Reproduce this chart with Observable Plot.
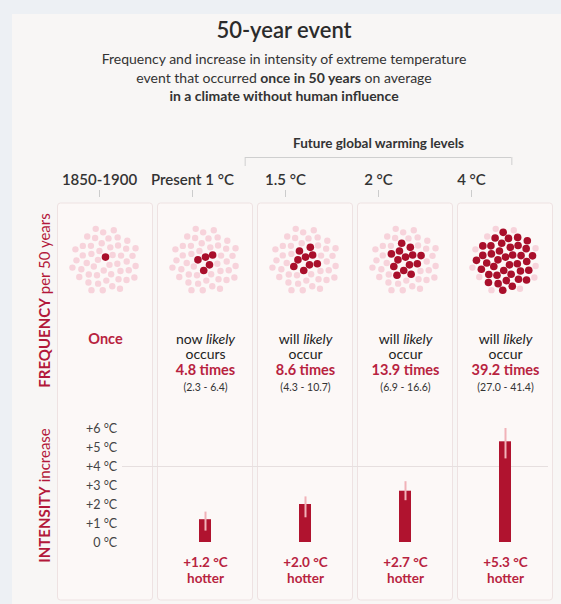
<!DOCTYPE html>
<html><head><meta charset="utf-8">
<script src="https://cdn.jsdelivr.net/npm/d3@7"></script>
<script src="https://cdn.jsdelivr.net/npm/@observablehq/plot@0.6"></script>
<style>
html,body{margin:0;padding:0;background:#edf0f4;}
body{width:561px;height:604px;position:relative;overflow:hidden;font-family:Lato,"Noto Sans",sans-serif;color:#333;}
#panel{position:absolute;left:12px;top:14px;width:549px;height:590px;background:#f8f6f5;}
.t{position:absolute;left:7px;width:554px;text-align:center;white-space:nowrap;}
#title{top:17px;font-size:22px;line-height:26px;font-weight:600;color:#2b2b2b;}
#sub{top:50px;font-size:14px;line-height:18.5px;color:#333;}
#sub b{font-weight:700;}
.p{position:absolute;left:0;}
#header{top:120px;} #freq{top:196px;} #inten{top:400px;}
</style></head>
<body>
<div id="panel"></div>
<div class="t" id="title">50-year event</div>
<div class="t" id="sub">Frequency and increase in intensity of extreme temperature<br>event that occurred <b>once in 50 years</b> on average<br><b>in a climate without human influence</b></div>
<div class="p" id="header"></div>
<div class="p" id="freq"></div>
<div class="p" id="inten"></div>
<script>
// ---- data ----
const categories = ["1850-1900", "Present 1 °C", "1.5 °C", "2 °C", "4 °C"];
const futureGroupLabel = "Future global warming levels";
const futureFirst = "1.5 °C";
const futureLast = "4 °C";
const yearsPerPeriod = 50;
const frequency = [1, 4.8, 8.6, 13.9, 39.2];
const frequencyLow = [null, 2.3, 4.3, 6.9, 27.0];
const frequencyHigh = [null, 6.4, 10.7, 16.6, 41.4];
const phraseLine1 = ["Once", "now likely", "will likely", "will likely", "will likely"];
const phraseLine2 = ["", "occurs", "occur", "occur", "occur"];
const intensity = [null, 1.2, 2.0, 2.7, 5.3];
const intensityLow = [null, 0.6, 1.3, 2.2, 4.4];
const intensityHigh = [null, 1.6, 2.4, 3.2, 6.0];
const intensityTicks = [0, 1, 2, 3, 4, 5, 6];
const frequencyAxisLabel = "FREQUENCY per 50 years";
const intensityAxisLabel = "INTENSITY increase";

// ---- styles ----
const RED = "#b3183a", TXT = "#b8233f", BAR = "#b0132f", DARKDOT = "#a90f2b", PINK = "#f7d3db";
const CARD = "#fcf8f7", CARDSTROKE = "#eee2e2";
const svgStyle = {background: "transparent", overflow: "hidden", fontFamily: "Lato, 'Noto Sans', sans-serif", color: "#333"};

const table = categories.map((c, i) => ({
  i, c, freq: frequency[i], lo: frequencyLow[i], hi: frequencyHigh[i],
  p1: phraseLine1[i], p2: phraseLine2[i],
  v: intensity[i], vlo: intensityLow[i], vhi: intensityHigh[i]
}));
const withRange = table.filter(d => d.lo != null);
const withIntensity = table.filter(d => d.v != null);

// ---- header ----
const bandPad = 0.14;
const hRange = [57.4, 513.3];
const hStep = (hRange[1] - hRange[0]) / (categories.length - bandPad);
const hBw = hStep * (1 - bandPad);
const header = Plot.plot({
  width: 561, height: 80, margin: 0, style: svgStyle,
  x: {type: "band", domain: categories, range: hRange, paddingInner: bandPad, paddingOuter: 0, axis: null},
  y: {domain: [0, 80], range: [0, 80], axis: null},
  marks: [
    Plot.text([futureGroupLabel], {x: () => "2 °C", y: 23, fontSize: 13.5, fontWeight: 700, fill: "#333"}),
    Plot.ruleY([37], {x1: () => futureFirst, x2: () => futureLast, stroke: "#cfcfcf"}),
    Plot.ruleX([futureFirst], {x: d => d, y1: 37, y2: 46, dx: -hBw / 2, stroke: "#cfcfcf"}),
    Plot.ruleX([futureLast], {x: d => d, y1: 37, y2: 45, dx: hBw / 2, stroke: "#cfcfcf"}),
    Plot.text(categories, {x: d => d, y: 60, fontSize: 15, fontWeight: 600, fill: "#333"}),
    Plot.ruleX(categories, {x: d => d, y1: 70, y2: 77, stroke: "#cccccc"})
  ]
});
document.getElementById("header").append(header);

// ---- frequency panel ----
const xCol = {type: "linear", domain: [0, categories.length], range: [55, 555], axis: null};
const golden = Math.PI * (3 - Math.sqrt(5));
const clusterR = 0.34, clusterY = 0.64;
const dots = [];
table.forEach(d => {
  const nDark = Math.round(d.freq);
  for (let j = 0; j < yearsPerPeriod; j++) {
    const r = clusterR * Math.sqrt((j + 0.5) / yearsPerPeriod), a = j * golden - Math.PI / 2;
    dots.push({x: d.i + 0.5 + r * Math.cos(a), y: clusterY + r * Math.sin(a), dark: j < nDark});
  }
});
const freqPlot = Plot.plot({
  width: 561, height: 204, margin: 0, style: svgStyle,
  x: xCol,
  y: {domain: [0, 2.04], range: [0, 204], axis: null},
  marks: [
    Plot.rect(table, {x1: d => d.i, x2: d => d.i + 1, y1: 0.07, y2: 2.6, insetLeft: 2.5, insetRight: 2.5, fill: CARD, stroke: CARDSTROKE, rx: 3}),
    Plot.dot(dots.filter(d => !d.dark), {x: "x", y: "y", r: 3.2, fill: PINK}),
    Plot.dot(dots.filter(d => d.dark), {x: "x", y: "y", r: 3.8, fill: DARKDOT}),
    Plot.text(table.filter(d => d.i === 0), {x: d => d.i + 0.5, y: 1.43, text: "p1", fontSize: 14.5, fontWeight: 700, fill: TXT}),
    Plot.text(withRange, {x: d => d.i + 0.5, y: 1.43, text: "p1", fontSize: 14, fill: "#222"}),
    Plot.text(withRange, {x: d => d.i + 0.5, y: 1.58, text: "p2", fontSize: 14, fill: "#222"}),
    Plot.text(withRange, {x: d => d.i + 0.5, y: 1.74, text: d => `${d.freq.toFixed(1)} times`, fontSize: 14.5, fontWeight: 700, fill: TXT}),
    Plot.text(withRange, {x: d => d.i + 0.5, y: 1.91, text: d => `(${d.lo.toFixed(1)} - ${d.hi.toFixed(1)})`, fontSize: 10.5, fill: "#333"}),
    Plot.text([frequencyAxisLabel], {x: -0.1, y: 1.04, rotate: -90, fontSize: 15, fill: RED})
  ]
});
document.getElementById("freq").append(freqPlot);

// ---- intensity panel ----
const intenPlot = Plot.plot({
  width: 561, height: 204, margin: 0, style: svgStyle,
  x: xCol,
  y: {domain: [-62 / 19, 142 / 19], range: [204, 0], axis: null},
  marks: [
    Plot.rect(table, {x1: d => d.i, x2: d => d.i + 1, y1: -58 / 19, y2: 10, insetLeft: 2.5, insetRight: 2.5, fill: CARD, stroke: CARDSTROKE, rx: 3}),
    Plot.ruleY([4], {x1: 0.67, x2: 4.93, stroke: "#e6dfdf"}),
    Plot.text(intensityTicks, {x: 0.5, y: d => d, dx: 11.7, textAnchor: "end", text: d => d === 0 ? "0 °C" : `+${d} °C`, fontSize: 12.5, fill: "#444"}),
    Plot.rect(withIntensity, {x1: d => d.i, x2: d => d.i + 1, y1: 0, y2: "v", insetLeft: 44, insetRight: 44, fill: BAR}),
    Plot.ruleX(withIntensity, {x: d => d.i + 0.5, y1: "vlo", y2: "vhi", stroke: "#f1b2b8", strokeWidth: 2}),
    Plot.text(withIntensity, {x: d => d.i + 0.5, y: 0, dy: 20.5, text: d => `+${d.v.toFixed(1)} °C`, fontSize: 13.5, fontWeight: 700, fill: TXT}),
    Plot.text(withIntensity, {x: d => d.i + 0.5, y: 0, dy: 36.5, text: () => "hotter", fontSize: 13.5, fontWeight: 700, fill: TXT}),
    Plot.text([intensityAxisLabel], {x: -0.1, y: 2.474, rotate: -90, fontSize: 15, fill: RED})
  ]
});
document.getElementById("inten").append(intenPlot);

// ---- mixed-style text runs ----
function styleRuns(svg) {
  d3.select(svg).selectAll("text").each(function () {
    const t = this.textContent;
    const sel = d3.select(this);
    if (t.includes("likely") && !this.querySelector("tspan")) {
      const [a, b] = t.split("likely");
      this.textContent = "";
      sel.append("tspan").text(a);
      sel.append("tspan").attr("font-style", "italic").text("likely");
      if (b) sel.append("tspan").text(b);
    } else if (t === frequencyAxisLabel || t === intensityAxisLabel) {
      const k = t.indexOf(" ");
      this.textContent = "";
      sel.append("tspan").attr("font-weight", 700).text(t.slice(0, k));
      sel.append("tspan").text(t.slice(k));
    }
  });
}
styleRuns(freqPlot);
styleRuns(intenPlot);
</script>
</body></html>
